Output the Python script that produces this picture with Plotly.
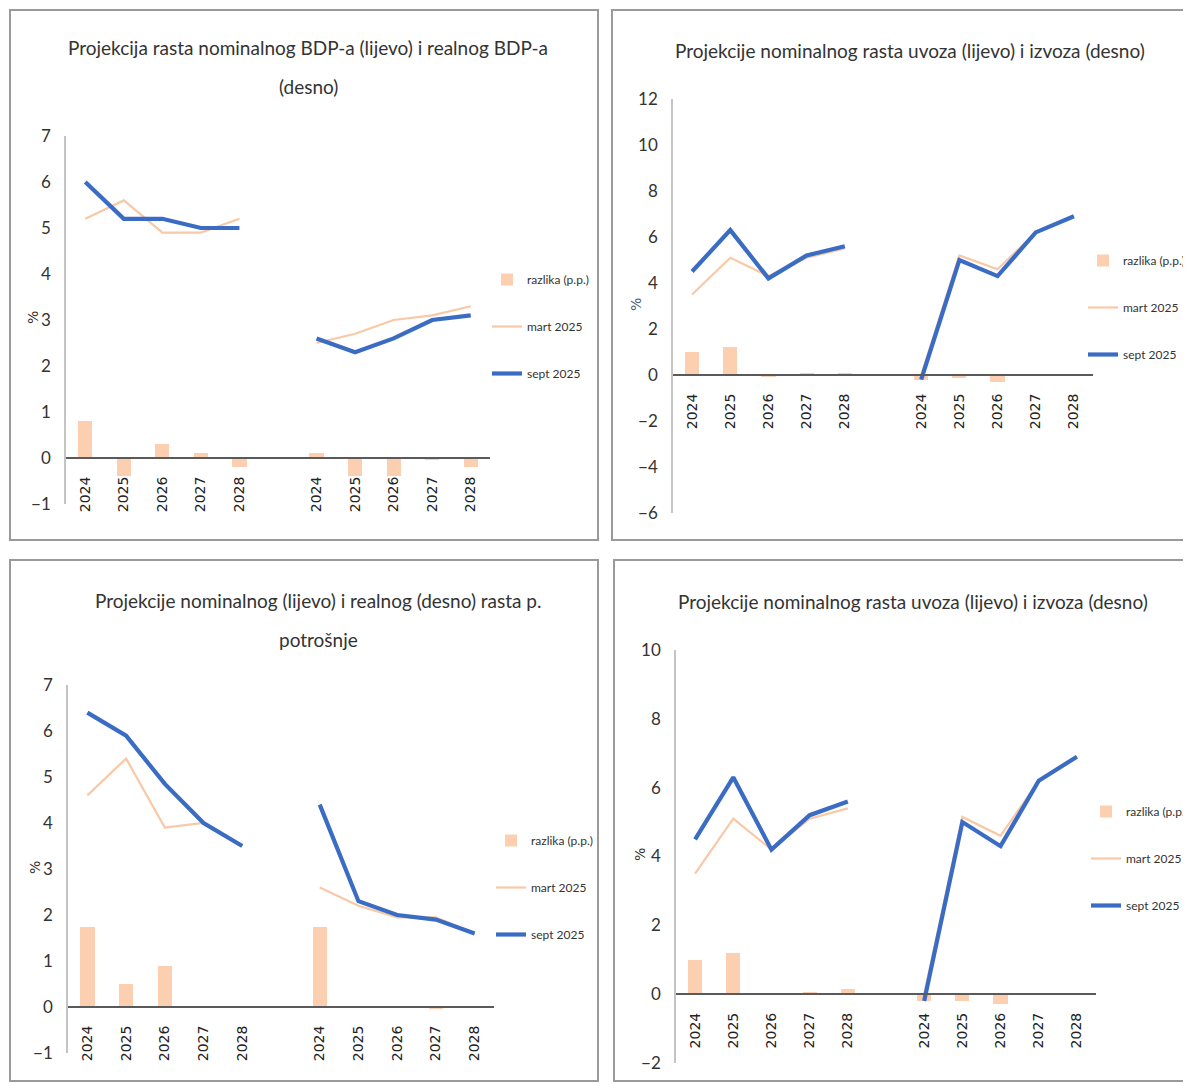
import plotly.graph_objects as go

W, H = 1191, 1084
OFF = 8  # page body margin in the browser

years = ["2024", "2025", "2026", "2027", "2028"]

# Panel 1: BDP
gdp_nom_sept = [6.0, 5.2, 5.2, 5.0, 5.0]
gdp_nom_mart = [5.2, 5.6, 4.9, 4.9, 5.2]
gdp_nom_razlika = [0.8, -0.4, 0.3, 0.1, -0.2]
gdp_real_sept = [2.6, 2.3, 2.6, 3.0, 3.1]
gdp_real_mart = [2.5, 2.7, 3.0, 3.1, 3.3]
gdp_real_razlika = [0.1, -0.4, -0.4, -0.05, -0.2]

# Panel 2: uvoz / izvoz
uvoz_sept = [4.5, 6.3, 4.2, 5.2, 5.6]
uvoz_mart = [3.5, 5.1, 4.3, 5.1, 5.5]
uvoz_razlika = [1.0, 1.2, -0.05, 0.05, 0.1]
izvoz_sept = [-0.2, 5.0, 4.3, 6.2, 6.9]
izvoz_mart = [0.0, 5.2, 4.6, 6.2, 6.9]
izvoz_razlika = [-0.2, -0.15, -0.3, 0.0, 0.0]

# Panel 3: potrosnja
pot_nom_sept = [6.4, 5.9, 4.85, 4.0, 3.5]
pot_nom_mart = [4.6, 5.4, 3.9, 4.0, 3.5]
pot_nom_razlika = [1.75, 0.5, 0.9, 0.0, 0.0]
pot_real_sept = [4.4, 2.3, 2.0, 1.9, 1.6]
pot_real_mart = [2.6, 2.2, 1.95, 1.95, 1.6]
pot_real_razlika = [1.75, 0.0, 0.0, -0.05, 0.0]

# Panel 4: uvoz / izvoz (second copy)
uvoz2_sept = [4.5, 6.3, 4.2, 5.2, 5.6]
uvoz2_mart = [3.5, 5.1, 4.2, 5.1, 5.4]
uvoz2_razlika = [1.0, 1.2, 0.0, 0.05, 0.15]
izvoz2_sept = [-0.2, 5.0, 4.3, 6.2, 6.9]
izvoz2_mart = [0.0, 5.15, 4.6, 6.2, 6.9]
izvoz2_razlika = [-0.2, -0.2, -0.3, 0.0, 0.0]

titles = [
    ["Projekcija rasta nominalnog BDP-a (lijevo) i realnog BDP-a", "(desno)"],
    ["Projekcije nominalnog rasta uvoza (lijevo) i izvoza (desno)"],
    ["Projekcije nominalnog (lijevo) i realnog (desno) rasta p.", "potrošnje"],
    ["Projekcije nominalnog rasta uvoza (lijevo) i izvoza (desno)"],
]

BLUE = "#3A6CC4"
PEACH = "#F9C8A6"
BAR = "#FCCFB0"
FONT = "Lato, Roboto, Liberation Sans, sans-serif"
TXT = "#333333"


def fx(px):
    return (px - OFF) / W


def fy(py):
    return 1 - (py - OFF) / H


panels = [
    dict(data=(gdp_nom_sept, gdp_nom_mart, gdp_nom_razlika, gdp_real_sept, gdp_real_mart, gdp_real_razlika),
         px=(66, 490), py=(136, 504), rng=(-1, 7), dt=1,
         leg=(487, 277), title_xy=(308, 48), pct=(33, 318), pct_color=TXT),
    dict(data=(uvoz_sept, uvoz_mart, uvoz_razlika, izvoz_sept, izvoz_mart, izvoz_razlika),
         px=(673, 1093), py=(99, 513), rng=(-6, 12), dt=2,
         leg=(1083, 258), title_xy=(910, 50), pct=(636, 305), pct_color="#4A5E78"),
    dict(data=(pot_nom_sept, pot_nom_mart, pot_nom_razlika, pot_real_sept, pot_real_mart, pot_real_razlika),
         px=(68, 494), py=(685, 1053), rng=(-1, 7), dt=1,
         leg=(491, 838), title_xy=(318, 600), pct=(35, 868), pct_color=TXT),
    dict(data=(uvoz2_sept, uvoz2_mart, uvoz2_razlika, izvoz2_sept, izvoz2_mart, izvoz2_razlika),
         px=(676, 1096), py=(650, 1063), rng=(-2, 10), dt=2,
         leg=(1086, 809), title_xy=(913, 601), pct=(640, 855), pct_color=TXT),
]

left_pos = list(range(len(years)))
right_pos = [len(years) + 1 + i for i in range(len(years))]
all_pos = left_pos + right_pos
all_labels = years + years

fig = go.Figure()
layout = dict(width=W, height=H, margin=dict(l=0, r=0, t=0, b=0, autoexpand=False),
              template="none", paper_bgcolor="white", plot_bgcolor="rgba(0,0,0,0)",
              showlegend=True, bargap=0, annotations=[], shapes=[])

for i, p in enumerate(panels):
    n = i + 1
    sfx = "" if n == 1 else str(n)
    xa, ya = "x" + sfx, "y" + sfx
    legname = "legend" + sfx
    nom_s, nom_m, nom_r, real_s, real_m, real_r = p["data"]

    fig.add_trace(go.Bar(x=all_pos, y=nom_r + real_r, width=0.37, marker=dict(color=BAR, line=dict(width=0)),
                         name="razlika (p.p.)", xaxis=xa, yaxis=ya, legend=legname, legendgroup="a" + sfx))
    fig.add_trace(go.Scatter(x=left_pos, y=nom_m, mode="lines", line=dict(color=PEACH, width=2.2),
                             name="mart 2025", xaxis=xa, yaxis=ya, legend=legname, legendgroup="b" + sfx))
    fig.add_trace(go.Scatter(x=right_pos, y=real_m, mode="lines", line=dict(color=PEACH, width=2.2),
                             name="mart 2025", xaxis=xa, yaxis=ya, legend=legname, legendgroup="b" + sfx,
                             showlegend=False))
    fig.add_trace(go.Scatter(x=left_pos, y=nom_s, mode="lines", line=dict(color=BLUE, width=4.2),
                             name="sept 2025", xaxis=xa, yaxis=ya, legend=legname, legendgroup="c" + sfx))
    fig.add_trace(go.Scatter(x=right_pos, y=real_s, mode="lines", line=dict(color=BLUE, width=4.2),
                             name="sept 2025", xaxis=xa, yaxis=ya, legend=legname, legendgroup="c" + sfx,
                             showlegend=False))

    x0, x1 = fx(p["px"][0]), fx(p["px"][1])
    y0, y1 = fy(p["py"][1]), fy(p["py"][0])
    rmin, rmax = p["rng"]
    zero_pos = y0 + (0 - rmin) / (rmax - rmin) * (y1 - y0)

    layout["xaxis" + sfx] = dict(domain=[x0, x1], range=[-0.5, len(all_pos) + 0.5], anchor="free",
                                 position=zero_pos, tickmode="array", tickvals=all_pos, ticktext=all_labels,
                                 tickangle=-90, showline=True, linecolor="#5a5a5a", linewidth=2,
                                 showgrid=False, zeroline=False, ticks="", ticklabelstandoff=12,
                                 tickfont=dict(family="DejaVu Sans", size=14, color="#222222"))
    layout["yaxis" + sfx] = dict(domain=[y0, y1], range=[rmin, rmax], anchor=xa,
                                 tickmode="linear", tick0=rmin, dtick=p["dt"],
                                 showline=True, linecolor="#c4c4c4", linewidth=1.5,
                                 showgrid=False, zeroline=False, ticks="", ticklabelstandoff=10,
                                 tickfont=dict(family=FONT, size=17, color=TXT))
    lx, ly = p["leg"]
    layout[legname] = dict(x=fx(lx), y=fy(ly - 12), xanchor="left", yanchor="top",
                           bgcolor="rgba(0,0,0,0)", traceorder="grouped", tracegroupgap=28,
                           font=dict(family=FONT, size=12, color=TXT), itemwidth=30)

    tx, ty = p["title_xy"]
    for k, line in enumerate(titles[i]):
        layout["annotations"].append(dict(text=line, x=fx(tx), y=fy(ty + k * 39), xref="paper", yref="paper",
                                          xanchor="center", yanchor="middle", showarrow=False,
                                          font=dict(family=FONT, size=19, color="#333333")))
    cx, cy = p["pct"]
    layout["annotations"].append(dict(text="%", x=fx(cx), y=fy(cy), xref="paper", yref="paper",
                                      xanchor="center", yanchor="middle", showarrow=False, textangle=-90,
                                      font=dict(family="DejaVu Sans", size=14, color=p["pct_color"])))

# panel frames
frames = [(10, 10, 598, 540), (612, 10, 1210, 540), (10, 560, 598, 1081), (614, 560, 1210, 1081)]
for (a, b, c, d) in frames:
    layout["shapes"].append(dict(type="rect", xref="paper", yref="paper", x0=fx(a), x1=fx(c),
                                 y0=fy(d), y1=fy(b), line=dict(color="#9a9a9a", width=2),
                                 fillcolor="rgba(0,0,0,0)", layer="below"))

fig.update_layout(**layout)
fig.write_html("out.html")
